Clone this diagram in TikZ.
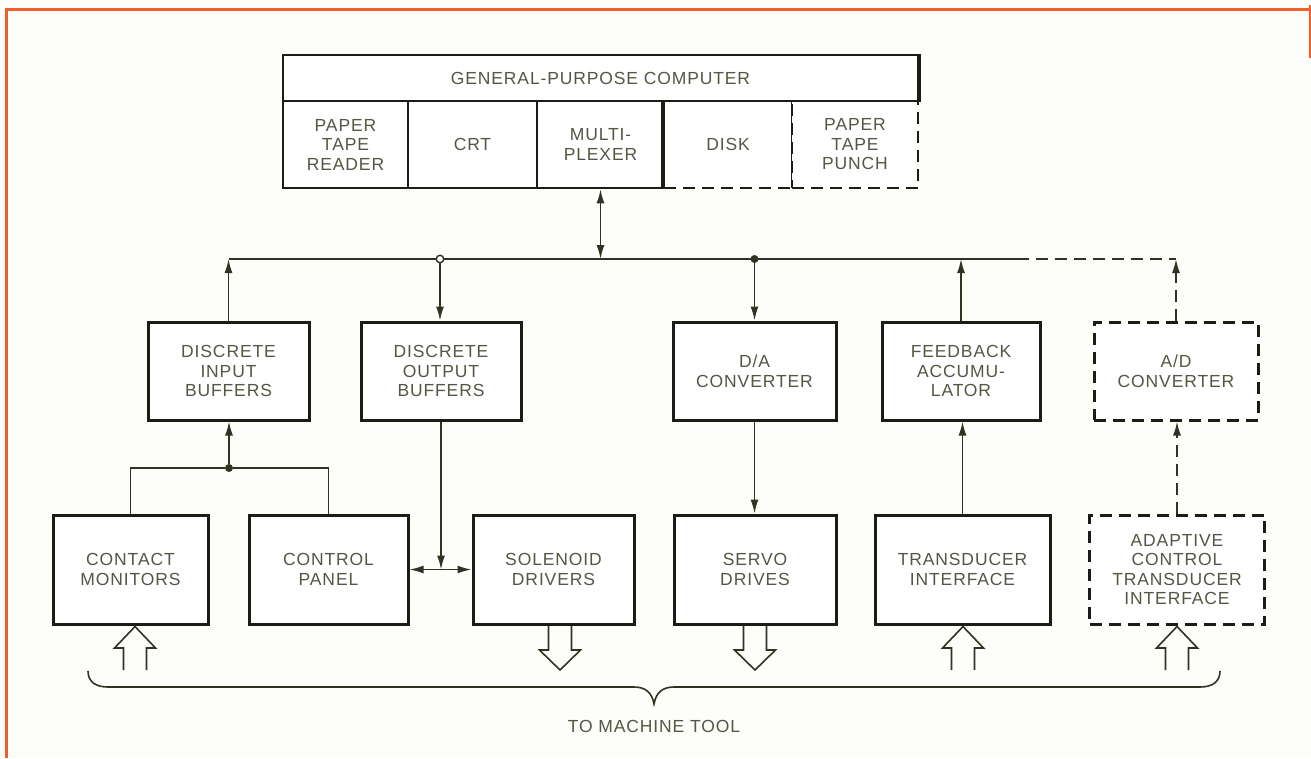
\documentclass[tikz,border=0pt]{standalone}
\usepackage{fontspec}
\setmainfont{Liberation Sans}[LetterSpace=5]
\usetikzlibrary{arrows.meta}
\definecolor{txtc}{RGB}{86,86,68}
\definecolor{linec}{RGB}{50,50,36}
\definecolor{boxc}{RGB}{28,28,22}
\definecolor{framec}{RGB}{242,95,45}
\definecolor{bgc}{RGB}{253,253,250}
\newcommand{\lblfont}{\fontsize{17.5}{19.5}\selectfont}
\tikzset{
  box/.style={draw=boxc, line width=3pt, fill=white, inner sep=0pt, align=center,
    text=txtc, font=\lblfont},
  dbox/.style={box, dash pattern=on 12pt off 7pt},
  cell/.style={box, line width=2.6pt},
  dcell/.style={cell, dash pattern=on 12pt off 7pt},
  conn/.style={draw=linec, line width=1.6pt},
  dconn/.style={conn, dash pattern=on 12pt off 7pt},
  tip/.style={-{Latex[length=14pt,width=8pt]}},
  dtip/.style={{Latex[length=14pt,width=8pt]}-{Latex[length=14pt,width=8pt]}},
  dot/.style={circle, fill=linec, inner sep=0pt, minimum size=8pt},
  ocirc/.style={circle, draw=linec, line width=1.4pt, fill=white, inner sep=0pt, minimum size=7.5pt},
  barrow/.style={draw=linec, line width=1.6pt, line join=miter},
  lbl/.style={text=txtc, font=\lblfont, inner sep=0pt}
}
\begin{document}
\begin{tikzpicture}[x=1pt, y=-1pt]
\useasboundingbox (0,0) rectangle (1311,758);
\fill[bgc] (0,0) rectangle (1311,758);
% orange frame
\draw[framec, line width=3pt] (6,758) -- (6,9) -- (1311,9);
\draw[framec, line width=2pt] (1309.5,5) -- (1309.5,58);

% computer
\node[dcell, minimum width=128pt, minimum height=87pt] (disk) at (728,144.5) {DISK};
\node[dcell, minimum width=126pt, minimum height=87pt] (ptp) at (855,144.5) {PAPER\\TAPE\\PUNCH};
\node[cell, minimum width=635pt, minimum height=46pt] (gpc) at (600.5,78) {GENERAL-PURPOSE COMPUTER};
\node[cell, minimum width=125pt, minimum height=87pt] (ptr) at (345.5,144.5) {PAPER\\TAPE\\READER};
\node[cell, minimum width=129pt, minimum height=87pt] (crt) at (472.5,144.5) {CRT};
\node[cell, minimum width=127pt, minimum height=87pt] (mux) at (600.5,144.5) {MULTI-\\PLEXER};
\draw[boxc, line width=2.6pt] (disk.north west) -- (disk.south west);
\draw[boxc, line width=2.6pt] (gpc.south east) -- (gpc.north east);

% middle row
\node[box, minimum width=161pt, minimum height=98pt] (dib) at (228.5,371) {DISCRETE\\INPUT\\BUFFERS};
\node[box, minimum width=160pt, minimum height=98pt] (dob) at (441,371) {DISCRETE\\OUTPUT\\BUFFERS};
\node[box, minimum width=163pt, minimum height=98pt] (da) at (754.5,371) {D/A\\CONVERTER};
\node[box, minimum width=158pt, minimum height=98pt] (fa) at (961,371) {FEEDBACK\\ACCUMU-\\LATOR};
\node[dbox, minimum width=164pt, minimum height=98pt] (ad) at (1176,371) {A/D\\CONVERTER};

% bottom row
\node[box, minimum width=155pt, minimum height=109pt] (cm) at (130.5,569.5) {CONTACT\\MONITORS};
\node[box, minimum width=159pt, minimum height=109pt] (cp) at (328.5,569.5) {CONTROL\\PANEL};
\node[box, minimum width=161pt, minimum height=109pt] (sd) at (553.5,569.5) {SOLENOID\\DRIVERS};
\node[box, minimum width=162pt, minimum height=109pt] (sv) at (755,569.5) {SERVO\\DRIVES};
\node[box, minimum width=175pt, minimum height=109pt] (ti) at (962.5,569.5) {TRANSDUCER\\INTERFACE};
\node[dbox, minimum width=175pt, minimum height=109pt] (acti) at (1177,569.5) {ADAPTIVE\\CONTROL\\TRANSDUCER\\INTERFACE};

% bus
\coordinate (busL) at (229,259);
\coordinate (busS) at (1017,259);
\coordinate (busR) at (1176,259);
\draw[conn] (busL) -- (busS);
\draw[dconn] (busS) -- (busR);
\node[ocirc] (j1) at (440,259) {};
\node[dot] (j2) at (754.5,259) {};
\node[dot] (j3) at (229,468) {};

% connectors
\draw[conn, dtip] (mux.south) -- (mux.south |- busL);
\draw[conn, tip] (dib.north) -- (dib.north |- busL);
\draw[conn, tip] (j1) -- (j1 |- dob.north);
\draw[conn, tip] (j2) -- (j2 |- da.north);
\draw[conn, tip] (fa.north) -- (fa.north |- busL);
\draw[dconn, tip] (ad.north) -- (busR);
\draw[conn] (cm.north) |- (j3) -| (cp.north);
\draw[conn, tip] (j3) -- (j3 |- dib.south);
\draw[conn, tip] (dob.south) -- (dob.south |- cp.east);
\draw[conn, dtip] (cp.east) -- (sd.west);
\draw[conn, tip] (da.south) -- (da.south |- sv.north);
\draw[conn, tip] (ti.north) -- (ti.north |- fa.south);
\draw[dconn, tip] (acti.north) -- (acti.north |- ad.south);

% block arrows to/from machine tool
\foreach \c in {135,963,1177}{
  \draw[barrow] (\c-11.5,670) -- (\c-11.5,648) -- (\c-20.5,648) -- (\c,626.5)
    -- (\c+20.5,648) -- (\c+11.5,648) -- (\c+11.5,670);
}
\foreach \c in {560,755}{
  \draw[barrow] (\c-11.5,625.5) -- (\c-11.5,650) -- (\c-20.5,650) -- (\c,670)
    -- (\c+20.5,650) -- (\c+11.5,650) -- (\c+11.5,625.5);
}

% brace
\draw[conn] (88,671) .. controls (88,682) and (96,687) .. (108,687) -- (634,687)
  .. controls (646,687) and (652,693) .. (654,704)
  .. controls (656,693) and (662,687) .. (674,687) -- (1200,687)
  .. controls (1212,687) and (1220,682) .. (1220,671);
\node[lbl] (mt) at (654,726) {TO MACHINE TOOL};
\end{tikzpicture}
\end{document}
